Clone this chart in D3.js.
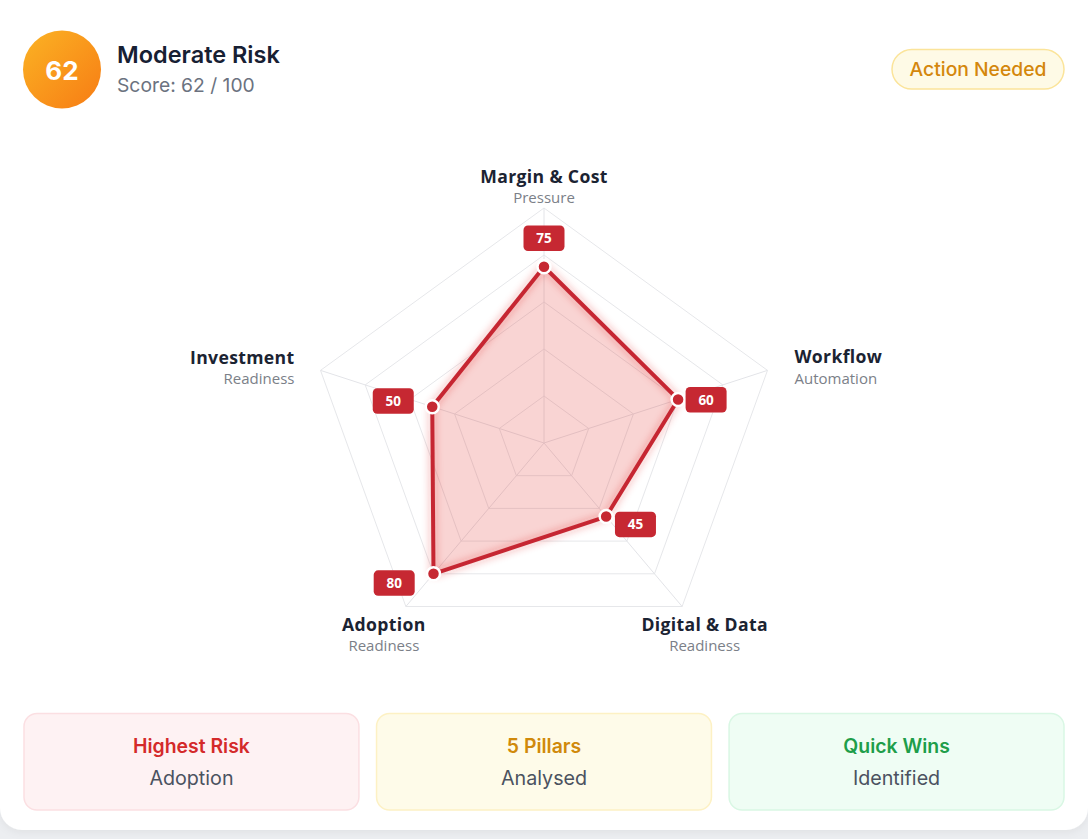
<!DOCTYPE html>
<html>
<head>
<meta charset="utf-8">
<script src="https://cdn.jsdelivr.net/npm/d3@7"></script>
<style>
  html, body { margin: 0; padding: 0; background: #eceef1; }
  svg { display: block; }
</style>
</head>
<body>
<svg id="chart" width="1088" height="839"></svg>
<script>
// ---------- DATA ----------
const axisTitles = ["Margin & Cost", "Workflow", "Digital & Data", "Adoption", "Investment"];
const axisSubtitles = ["Pressure", "Automation", "Readiness", "Readiness", "Readiness"];
const riskValues = [75, 60, 45, 80, 50];
const gridLevels = [20, 40, 60, 80, 100];
const overallScore = 62;
const scoreMax = 100;
const riskLabel = "Moderate Risk";
const badgeText = "Action Needed";
const cardTitles = ["Highest Risk", "5 Pillars", "Quick Wins"];
const cardSubtitles = ["Adoption", "Analysed", "Identified"];

// ---------- LAYOUT ----------
const W = 1088, H = 839;
const svg = d3.select("#chart");
const cx = 544, cy = 443, R = 235;
const downSquash = 0.86;

const rScale = d3.scaleLinear().domain([0, 100]).range([0, R]);
const angleScale = d3.scaleLinear().domain([0, axisTitles.length]).range([0, 2 * Math.PI]);
const yDown = d3.scaleLinear().domain([0, 1]).range([0, downSquash]);

function project(i, v) {
  const a = angleScale(i), r = rScale(v);
  const dx = r * Math.sin(a);
  let dy = -r * Math.cos(a);
  if (dy > 0) dy = dy * yDown(1);
  return [cx + dx, cy + dy];
}

const defs = svg.append("defs");
const grad = defs.append("linearGradient").attr("id", "orb").attr("x1", "0%").attr("y1", "0%").attr("x2", "100%").attr("y2", "100%");
grad.append("stop").attr("offset", "0%").attr("stop-color", "#fbb324");
grad.append("stop").attr("offset", "100%").attr("stop-color", "#f77c14");
const glow = defs.append("filter").attr("id", "glow").attr("x", "-20%").attr("y", "-20%").attr("width", "140%").attr("height", "140%");
glow.append("feDropShadow").attr("dx", 0).attr("dy", 0).attr("stdDeviation", 4).attr("flood-color", "#dc2626").attr("flood-opacity", 0.45);
const shadow = defs.append("filter").attr("id", "cardShadow").attr("x", "-5%").attr("y", "-5%").attr("width", "110%").attr("height", "110%");
shadow.append("feDropShadow").attr("dx", 0).attr("dy", 2).attr("stdDeviation", 4).attr("flood-color", "#000").attr("flood-opacity", 0.06);

// card background
svg.append("rect").attr("x", 0).attr("y", -30).attr("width", W).attr("height", 860)
  .attr("rx", 22).attr("fill", "#ffffff").attr("filter", "url(#cardShadow)");

// ---------- HEADER ----------
svg.append("circle").attr("cx", 62).attr("cy", 69.5).attr("r", 39).attr("fill", "url(#orb)");
svg.append("text").attr("x", 62).attr("y", 79.5).attr("text-anchor", "middle")
  .attr("font-family", "Inter, sans-serif").attr("font-weight", 700).attr("font-size", 26)
  .attr("fill", "#ffffff").text(overallScore);
svg.append("text").attr("x", 117).attr("y", 63).attr("font-family", "Inter, sans-serif")
  .attr("font-weight", 600).attr("font-size", 23.5).attr("fill", "#172033").text(riskLabel);
svg.append("text").attr("x", 117).attr("y", 92).attr("font-family", "Inter, sans-serif")
  .attr("font-weight", 400).attr("font-size", 19.3).attr("fill", "#6b7280")
  .text(`Score: ${overallScore} / ${scoreMax}`);

svg.append("rect").attr("x", 892).attr("y", 49.5).attr("width", 172).attr("height", 39.5).attr("rx", 19.75)
  .attr("fill", "#fefae6").attr("stroke", "#fbe49a").attr("stroke-width", 1.5);
svg.append("text").attr("x", 978).attr("y", 75.8).attr("text-anchor", "middle")
  .attr("font-family", "Inter, sans-serif").attr("font-weight", 500).attr("font-size", 19.3)
  .attr("fill", "#d4870c").text(badgeText);

// ---------- RADAR ----------
const n = axisTitles.length;
const g = svg.append("g");

// grid rings
g.selectAll(".ring").data(gridLevels).join("polygon")
  .attr("points", lv => d3.range(n).map(i => project(i, lv).join(",")).join(" "))
  .attr("fill", "none").attr("stroke", "#e6e7ea").attr("stroke-width", 1);

// spokes
g.selectAll(".spoke").data(d3.range(n)).join("line")
  .attr("x1", cx).attr("y1", cy)
  .attr("x2", i => project(i, 100)[0]).attr("y2", i => project(i, 100)[1])
  .attr("stroke", "#e3e4e8").attr("stroke-width", 1);

// data polygon
const pts = riskValues.map((v, i) => project(i, v));
g.append("polygon").attr("points", pts.map(p => p.join(",")).join(" "))
  .attr("fill", "#e53935").attr("fill-opacity", 0.22).attr("stroke", "none");
g.append("polygon").attr("points", pts.map(p => p.join(",")).join(" "))
  .attr("fill", "none").attr("stroke", "#c62832").attr("stroke-width", 4)
  .attr("stroke-linejoin", "round").attr("filter", "url(#glow)");

// points
g.selectAll(".dot").data(pts).join("circle")
  .attr("cx", d => d[0]).attr("cy", d => d[1]).attr("r", 6.5)
  .attr("fill", "#c62832").attr("stroke", "#ffffff").attr("stroke-width", 2.5);

// value labels (offsets of badge centre from point)
const badgeOffsets = [[0, -28.5], [28, 0.3], [29.3, 7.8], [-39.3, 9.3], [-39, -5.7]];
const vl = g.selectAll(".vlab").data(riskValues).join("g")
  .attr("transform", (v, i) => `translate(${pts[i][0] + badgeOffsets[i][0]},${pts[i][1] + badgeOffsets[i][1]})`);
vl.append("rect").attr("x", -20.5).attr("y", -12.75).attr("width", 41).attr("height", 25.5).attr("rx", 4.5)
  .attr("fill", "#c62832");
vl.append("text").attr("y", 4.8).attr("text-anchor", "middle")
  .attr("font-family", "'Open Sans', sans-serif").attr("font-weight", 700).attr("font-size", 13.5)
  .attr("fill", "#ffffff").text(v => v);

// axis labels
const labelPos = [
  { dx: 0, dy: -25.5, anchor: "middle" },
  { dx: 27, dy: -7, anchor: "start" },
  { dx: 22.5, dy: 24, anchor: "middle" },
  { dx: -22, dy: 24, anchor: "middle" },
  { dx: -26, dy: -6.5, anchor: "end" }
];
const al = g.selectAll(".alab").data(axisTitles).join("g")
  .attr("transform", (t, i) => {
    const p = project(i, 100);
    return `translate(${p[0] + labelPos[i].dx},${p[1] + labelPos[i].dy})`;
  });
al.append("text").attr("text-anchor", (t, i) => labelPos[i].anchor)
  .attr("font-family", "'Open Sans', sans-serif").attr("font-weight", 700).attr("font-size", 17.6)
  .attr("letter-spacing", 0.35)
  .attr("fill", "#1b2332").text(t => t);
al.append("text").attr("y", 20.3).attr("text-anchor", (t, i) => labelPos[i].anchor)
  .attr("font-family", "'Open Sans', sans-serif").attr("font-weight", 400).attr("font-size", 15)
  .attr("fill", "#7b8088").text((t, i) => axisSubtitles[i]);

// ---------- BOTTOM CARDS ----------
const cardFill = ["#fef2f3", "#fefbe9", "#effdf4"];
const cardStroke = ["#fbdfe2", "#fdf1c4", "#d9f7e4"];
const cardTitleColor = ["#d42a2a", "#d0890b", "#1e9e4a"];
const xCard = d3.scaleBand().domain(d3.range(3)).range([24, 1064]).paddingInner(0.05);
const cards = svg.selectAll(".card").data(cardTitles).join("g")
  .attr("transform", (t, i) => `translate(${xCard(i)},713.5)`);
cards.append("rect").attr("width", xCard.bandwidth()).attr("height", 96.5).attr("rx", 13)
  .attr("fill", (t, i) => cardFill[i]).attr("stroke", (t, i) => cardStroke[i]).attr("stroke-width", 1.5);
cards.append("text").attr("x", xCard.bandwidth() / 2).attr("y", 39).attr("text-anchor", "middle")
  .attr("font-family", "Inter, sans-serif").attr("font-weight", 600).attr("font-size", 19.4)
  .attr("fill", (t, i) => cardTitleColor[i]).text(t => t);
cards.append("text").attr("x", xCard.bandwidth() / 2).attr("y", 71).attr("text-anchor", "middle")
  .attr("font-family", "Inter, sans-serif").attr("font-weight", 400).attr("font-size", 19.7)
  .attr("fill", "#4b5260").text((t, i) => cardSubtitles[i]);
</script>
</body>
</html>
